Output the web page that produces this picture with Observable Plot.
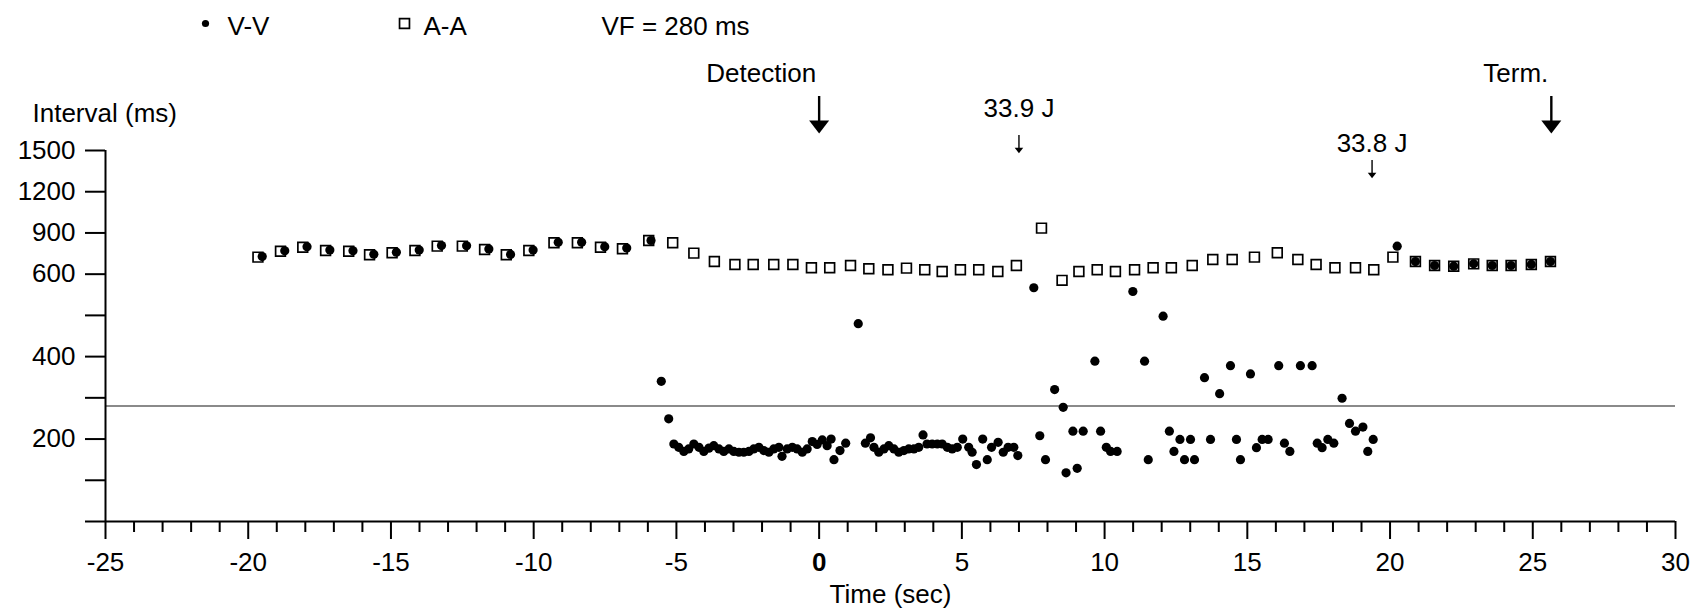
<!DOCTYPE html>
<html>
<head>
<meta charset="utf-8">
<script src="https://cdn.jsdelivr.net/npm/d3@7"></script>
<script src="https://cdn.jsdelivr.net/npm/@observablehq/plot@0.6"></script>
<style>
  html, body { margin: 0; padding: 0; background: white; }
</style>
</head>
<body>
<div id="chart"></div>
<script>
// ---- Data ----
const aaTime = [-19.66, -18.87, -18.09, -17.29, -16.48, -15.75, -14.96, -14.16, -13.38, -12.50,
  -11.72, -10.96, -10.17, -9.29, -8.47, -7.66, -6.89, -5.97, -5.13, -4.39,
  -3.67, -2.95, -2.31, -1.59, -0.92, -0.27, 0.37, 1.10, 1.74, 2.41,
  3.06, 3.70, 4.31, 4.95, 5.59, 6.26, 6.91, 7.79, 8.51, 9.10,
  9.74, 10.38, 11.05, 11.70, 12.34, 13.07, 13.79, 14.47, 15.25, 16.05,
  16.77, 17.41, 18.07, 18.79, 19.43, 20.10, 20.89, 21.56, 22.23, 22.93,
  23.58, 24.24, 24.95, 25.62];
const aaValue = [724, 767, 796, 772, 767, 741, 756, 772, 804, 804,
  780, 741, 772, 828, 828, 796, 785, 845, 828, 753,
  692, 671, 671, 671, 671, 647, 647, 663, 639, 632,
  644, 632, 620, 632, 632, 620, 663, 935, 585, 620,
  632, 620, 632, 647, 647, 663, 707, 707, 724, 756,
  707, 671, 647, 647, 632, 724, 692, 663, 658, 675,
  663, 663, 671, 692];

const vvTime = [-19.51, -18.72, -17.94, -17.14, -16.33, -15.60, -14.81, -14.01, -13.23, -12.35,
  -11.57, -10.81, -10.02, -9.14, -8.32, -7.51, -6.74, -5.89, -5.53, -5.27,
  -5.09, -4.92, -4.74, -4.57, -4.39, -4.21, -4.04, -3.86, -3.69, -3.51,
  -3.34, -3.16, -2.99, -2.81, -2.64, -2.46, -2.29, -2.11, -1.94, -1.76,
  -1.59, -1.41, -1.30, -1.12, -0.94, -0.77, -0.59, -0.42, -0.24, -0.07,
  0.11, 0.28, 0.42, 0.52, 0.73, 0.93, 1.37, 1.62, 1.80, 1.92,
  2.09, 2.27, 2.44, 2.62, 2.79, 2.97, 3.14, 3.32, 3.49, 3.64,
  3.78, 3.96, 4.14, 4.31, 4.49, 4.66, 4.84, 5.03, 5.24, 5.36,
  5.51, 5.73, 5.89, 6.04, 6.27, 6.45, 6.62, 6.82, 6.96, 7.52,
  7.73, 7.93, 8.25, 8.55, 8.65, 8.89, 9.04, 9.25, 9.66, 9.86,
  10.06, 10.21, 10.44, 10.99, 11.40, 11.53, 12.05, 12.27, 12.43, 12.64,
  12.80, 13.01, 13.15, 13.50, 13.71, 14.03, 14.41, 14.62, 14.76, 15.11,
  15.32, 15.52, 15.73, 16.10, 16.30, 16.49, 16.86, 17.27, 17.45, 17.62,
  17.82, 18.03, 18.32, 18.58, 18.79, 19.05, 19.22, 19.41, 20.25, 20.89,
  21.56, 22.23, 22.93, 23.58, 24.24, 24.95, 25.62];
const vvValue = [728, 770, 800, 776, 770, 745, 760, 776, 808, 806,
  784, 744, 775, 832, 832, 800, 790, 845, 340, 249,
  188, 180, 170, 176, 188, 180, 170, 178, 184, 176,
  170, 176, 170, 168, 168, 170, 176, 180, 172, 168,
  176, 180, 158, 176, 180, 176, 168, 176, 194, 187,
  198, 184, 200, 150, 172, 190, 480, 190, 203, 180,
  168, 176, 184, 176, 168, 172, 176, 176, 180, 210,
  188, 188, 188, 188, 180, 176, 180, 200, 180, 168,
  138, 200, 150, 180, 192, 168, 180, 180, 160, 567,
  208, 150, 320, 277, 118, 219, 129, 219, 389, 219,
  180, 170, 170, 558, 389, 150, 498, 219, 170, 199,
  150, 199, 150, 349, 199, 310, 378, 199, 150, 358,
  179, 199, 199, 378, 190, 170, 378, 378, 190, 179,
  199, 190, 299, 238, 219, 229, 170, 199, 804, 692,
  663, 658, 675, 663, 663, 671, 692];

const vfThreshold = [280];
const yTicks = [0, 100, 200, 300, 400, 500, 600, 900, 1200, 1500];
const yTickLabels = ["", "", "200", "", "400", "", "600", "900", "1200", "1500"];
const xMajorTicks = [-25, -20, -15, -10, -5, 5, 10, 15, 20, 25, 30];
const xZeroTick = [0];
const xMinorTicks = [-24, -23, -22, -21, -19, -18, -17, -16, -14, -13, -12, -11, -9, -8, -7, -6,
  -4, -3, -2, -1, 1, 2, 3, 4, 6, 7, 8, 9, 11, 12, 13, 14, 16, 17, 18, 19, 21, 22, 23, 24, 26, 27, 28, 29];

const bigArrows = [{t: 0, label: "Detection"}, {t: 25.65, label: "Term."}];
const shock1 = [{t: 7.0, label: "33.9 J"}];
const shock2 = [{t: 19.37, label: "33.8 J"}];
const legendLabels = ["V-V", "A-A", "VF = 280 ms"];
const yTitle = "Interval (ms)";
const xTitle = "Time (sec)";

// ---- Build ----
const aa = aaTime.map((t, i) => ({t, v: aaValue[i]}));
const vv = vvTime.map((t, i) => ({t, v: vvValue[i]}));

const triDown = {
  draw(context, size) {
    const r = Math.sqrt(size / Math.PI);
    const h = 0.65 * r;
    context.moveTo(-r, -h);
    context.lineTo(r, -h);
    context.lineTo(0, h);
    context.closePath();
  }
};

const W = 1702, H = 613;
const mL = 105, mR = 27, mT = 150, mB = 92;
const y0 = H - mB, y1500 = mT;
const step = (y0 - y1500) / 9;

const chart = Plot.plot({
  width: W,
  height: H,
  marginLeft: mL,
  marginRight: mR,
  marginTop: mT,
  marginBottom: mB,
  style: "font-family: 'Liberation Sans', Arial, sans-serif; font-size: 26px; color: black; background: white; overflow: visible;",
  x: {type: "linear", domain: [-25, 30]},
  y: {type: "linear", domain: [0, 600, 1500], range: [y0, y0 - 6 * step, y1500]},
  marks: [
    // VF threshold
    Plot.ruleY(vfThreshold, {x1: -25, x2: 30, stroke: "#8a8a8a", strokeWidth: 2}),
    // axes lines
    Plot.ruleX([-25], {y1: 0, y2: 1500, stroke: "black", strokeWidth: 2}),
    Plot.ruleY([0], {x1: -25, x2: 30, stroke: "black", strokeWidth: 2}),
    Plot.axisY({ticks: yTicks, tickFormat: (d) => yTickLabels[yTicks.indexOf(d)], tickSize: 20, tickPadding: 10, strokeWidth: 2, label: null, anchor: "left"}),
    Plot.axisX({ticks: xMajorTicks, tickFormat: (d) => String(d), tickSize: 18, tickPadding: 13, strokeWidth: 2, label: null}),
    Plot.axisX({ticks: xZeroTick, tickFormat: (d) => String(d), tickSize: 18, tickPadding: 13, strokeWidth: 2, label: null, fontWeight: "bold"}),
    Plot.axisX({ticks: xMinorTicks, tickSize: 11, strokeWidth: 2, text: null, label: null}),
    // data
    Plot.dot(aa, {x: "t", y: "v", symbol: "square", r: 5.5, stroke: "black", strokeWidth: 1.7, fill: "white"}),
    Plot.dot(vv, {x: "t", y: "v", r: 4.6, fill: "black"}),
    // axis titles
    Plot.text([yTitle], {text: (d) => d, frameAnchor: "top-left", dx: -73, dy: -29, textAnchor: "start", lineAnchor: "bottom"}),
    Plot.text([xTitle], {text: (d) => d, frameAnchor: "bottom", dy: 81, lineAnchor: "bottom"}),
    // legend
    Plot.dot([legendLabels[0]], {frameAnchor: "top-left", dx: 100, dy: -127, r: 3.6, fill: "black"}),
    Plot.text([legendLabels[0]], {text: (d) => d, frameAnchor: "top-left", dx: 122, dy: -116, textAnchor: "start", lineAnchor: "bottom"}),
    Plot.dot([legendLabels[1]], {frameAnchor: "top-left", dx: 299, dy: -127, symbol: "square", r: 5.6, stroke: "black", strokeWidth: 1.7, fill: "white"}),
    Plot.text([legendLabels[1]], {text: (d) => d, frameAnchor: "top-left", dx: 318, dy: -116, textAnchor: "start", lineAnchor: "bottom"}),
    Plot.text([legendLabels[2]], {text: (d) => d, frameAnchor: "top-left", dx: 496, dy: -116, textAnchor: "start", lineAnchor: "bottom"}),
    // big arrows: Detection, Term.
    Plot.ruleX(bigArrows, {x: "t", insetTop: -54, insetBottom: y0 - 122, stroke: "black", strokeWidth: 2.4}),
    Plot.dot(bigArrows, {x: "t", frameAnchor: "top", dy: -23.5, symbol: triDown, r: 10, fill: "black"}),
    Plot.text(bigArrows, {x: "t", text: "label", frameAnchor: "top", dy: -69, dx: -3, textAnchor: "end", lineAnchor: "bottom"}),
    // shock arrows
    Plot.ruleX(shock1, {x: "t", insetTop: -15, insetBottom: y0 - 148, stroke: "black", strokeWidth: 1.4}),
    Plot.dot(shock1, {x: "t", frameAnchor: "top", dy: 0, symbol: triDown, r: 4.3, fill: "black"}),
    Plot.text(shock1, {x: "t", text: "label", frameAnchor: "top", dy: -34, lineAnchor: "bottom"}),
    Plot.ruleX(shock2, {x: "t", insetTop: 10, insetBottom: y0 - 173, stroke: "black", strokeWidth: 1.4}),
    Plot.dot(shock2, {x: "t", frameAnchor: "top", dy: 25, symbol: triDown, r: 4.3, fill: "black"}),
    Plot.text(shock2, {x: "t", text: "label", frameAnchor: "top", dy: 1, lineAnchor: "bottom"})
  ]
});

document.getElementById("chart").appendChild(chart);
</script>
</body>
</html>
